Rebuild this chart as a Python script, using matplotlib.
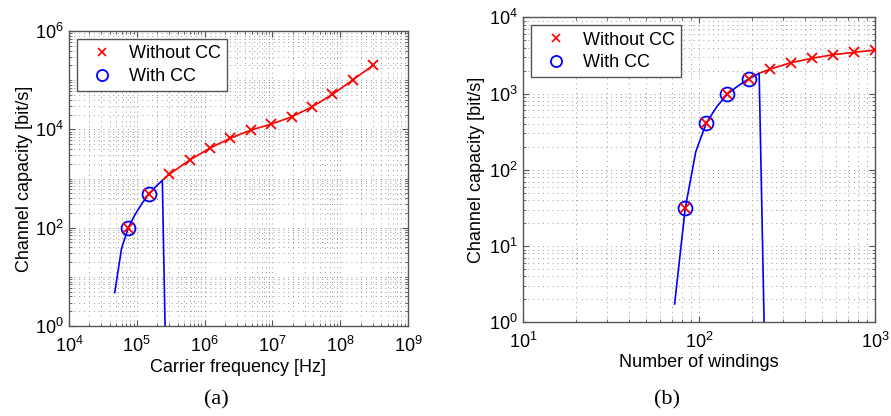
import numpy as np
import matplotlib
matplotlib.use('Agg')
import matplotlib.pyplot as plt
from matplotlib.ticker import LogLocator, FixedLocator, NullFormatter

plt.rcParams['font.family'] = ['Liberation Sans', 'DejaVu Sans']
plt.rcParams['mathtext.default'] = 'regular'

# (a) carrier frequency sweep
freq_nocc = [7.5e4, 1.5e5, 3e5, 6e5, 1.2e6, 2.4e6, 4.8e6, 9.6e6, 1.92e7, 3.84e7, 7.68e7, 1.536e8, 3.072e8]
cap_nocc = [100, 482, 1211, 2366, 4150, 6620, 9640, 12760, 17950, 28650, 51200, 101400, 201800]
freq_line = [2.38e5] + freq_nocc[2:]
cap_line = [915] + cap_nocc[2:]
freq_cc = [4.73e4, 5.96e4, 7.5e4, 9.44e4, 1.19e5, 1.5e5, 1.89e5, 2.38e5, 3e5]
cap_cc = [4.8, 38, 100, 186, 309, 482, 676, 915, 3.6e-5]
freq_cc_marks = [7.5e4, 1.5e5]
cap_cc_marks = [100, 482]

# (b) number of windings sweep
wind_nocc = [83.2, 109.6, 144.5, 190.5, 251.2, 331, 437, 575, 759, 1000]
capw_nocc = [31.3, 411, 986, 1552, 2080, 2540, 2900, 3230, 3475, 3725]
wind_line = [218.8] + wind_nocc[4:]
capw_line = [1845] + capw_nocc[4:]
wind_cc = [72.4, 83.2, 95.5, 109.6, 125.9, 144.5, 166, 190.5, 218.8, 251.2]
capw_cc = [1.74, 31.3, 173, 411, 676, 986, 1260, 1552, 1845, 2e-4]
wind_cc_marks = [83.2, 109.6, 144.5, 190.5]
capw_cc_marks = [31.3, 411, 986, 1552]

fig = plt.figure(figsize=(8.91, 4.16), dpi=100)
ax1 = fig.add_axes([69/891, 1-326/416, 339/891, 295/416])
ax2 = fig.add_axes([523.3/891, 1-322.3/416, 352/891, 305/416])

frame_col = '#555555'
grid_col = '#999999'
fs = 13


def style(ax):
    ax.set_xscale('log')
    ax.set_yscale('log')
    ax.grid(True, which='both', linestyle=(0, (1, 4)), color=grid_col, linewidth=0.7)
    ax.tick_params(which='both', direction='in', top=True, right=True, colors=frame_col,
                   labelcolor='black', labelsize=fs)
    ax.tick_params(axis='x', which='major', pad=7)
    ax.tick_params(axis='y', which='major', pad=4)
    ax.tick_params(which='major', length=4)
    ax.tick_params(which='minor', length=2)
    for s in ax.spines.values():
        s.set_color(frame_col)
        s.set_linewidth(1.0)


def draw(ax, xl, yl, xc, yc, xn, yn, xcm, ycm):
    ax.plot(xl, yl, color='red', lw=1.2, zorder=3)
    ax.plot(xc, yc, color='blue', lw=1.2, zorder=4)
    ax.plot(xcm, ycm, 'o', ms=10, mfc='none', mec='blue', mew=1.3, zorder=5)
    ax.plot(xn, yn, 'x', ms=7, color='red', mew=1.3, zorder=6)
    h1, = ax.plot([], [], 'x', ms=6, color='red', mew=1.2, label='Without CC')
    h2, = ax.plot([], [], 'o', ms=8, mfc='none', mec='blue', mew=1.3, label='With CC')
    leg = ax.legend(handles=[h1, h2], loc='upper left', fontsize=fs, fancybox=False,
                    framealpha=1, edgecolor=frame_col, borderaxespad=0.45,
                    handlelength=2.0, handletextpad=0.5, labelspacing=0.3,
                    borderpad=0.35)
    leg.get_frame().set_linewidth(1.0)


style(ax1)
draw(ax1, freq_line, cap_line, freq_cc, cap_cc, freq_nocc, cap_nocc, freq_cc_marks, cap_cc_marks)
ax1.set_xlim(1e4, 1e9)
ax1.set_ylim(1e0, 1e6)
ax1.xaxis.set_major_locator(FixedLocator([1e4, 1e5, 1e6, 1e7, 1e8, 1e9]))
ax1.yaxis.set_major_locator(FixedLocator([1e0, 1e2, 1e4, 1e6]))
ax1.xaxis.set_minor_locator(LogLocator(base=10, subs=np.arange(2, 10), numticks=50))
ax1.yaxis.set_minor_locator(LogLocator(base=10, subs=np.arange(1, 10), numticks=50))
ax1.set_xlabel('Carrier frequency [Hz]', fontsize=fs, labelpad=2)
ax1.set_ylabel('Channel capacity [bit/s]', fontsize=fs, labelpad=1)

style(ax2)
draw(ax2, wind_line, capw_line, wind_cc, capw_cc, wind_nocc, capw_nocc, wind_cc_marks, capw_cc_marks)
ax2.set_xlim(1e1, 1e3)
ax2.set_ylim(1e0, 1e4)
ax2.xaxis.set_major_locator(FixedLocator([1e1, 1e2, 1e3]))
ax2.yaxis.set_major_locator(FixedLocator([1e0, 1e1, 1e2, 1e3, 1e4]))
ax2.xaxis.set_minor_locator(LogLocator(base=10, subs=np.arange(2, 10), numticks=50))
ax2.yaxis.set_minor_locator(LogLocator(base=10, subs=np.arange(2, 10), numticks=50))
ax2.set_xlabel('Number of windings', fontsize=fs, labelpad=1)
ax2.set_ylabel('Channel capacity [bit/s]', fontsize=fs, labelpad=3)

for ax in (ax1, ax2):
    ax.xaxis.set_minor_formatter(NullFormatter())
    ax.yaxis.set_minor_formatter(NullFormatter())

fig.text(216/891, 1-400/416, '(a)', ha='center', va='center', fontsize=16, family='Liberation Serif')
fig.text(667/891, 1-400/416, '(b)', ha='center', va='center', fontsize=16, family='Liberation Serif')

fig.savefig('out.png', dpi=100)
